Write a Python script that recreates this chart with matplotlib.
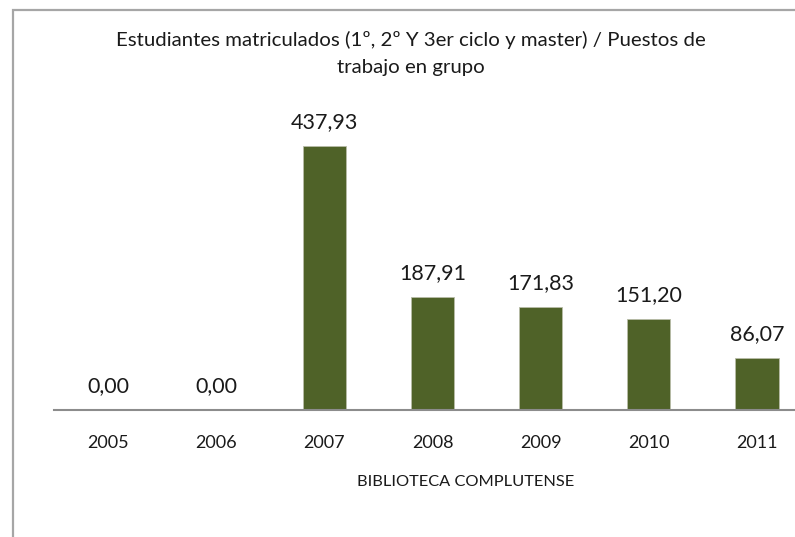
import matplotlib.pyplot as plt
from matplotlib.patches import Rectangle

years = ['2005', '2006', '2007', '2008', '2009', '2010', '2011']
values = [0.00, 0.00, 437.93, 187.91, 171.83, 151.20, 86.07]
labels = ['0,00', '0,00', '437,93', '187,91', '171,83', '151,20', '86,07']

plt.rcParams['font.family'] = ['Lato', 'DejaVu Sans']

fig = plt.figure(figsize=(7.95, 5.37), dpi=100)

# chart-area frame, only left and top edges fall inside the picture
fig.patches.append(Rectangle((13 / 795, -0.2), 1.2, 1 - 10 / 537 + 0.2,
                             transform=fig.transFigure, fill=False,
                             edgecolor='#a6a6a6', linewidth=1.6))

ax = fig.add_axes([54 / 795, 127 / 537, 757 / 795, 301 / 537])
x = range(len(years))
ax.bar(x, values, width=0.4, color='#4f6228', edgecolor='#b8bca8', linewidth=0.6)
ax.set_xlim(-0.5, len(years) - 0.5)
ax.set_ylim(0, 500)

for i, (v, t) in enumerate(zip(values, labels)):
    ax.annotate(t, (i, v), xytext=(0, 10), textcoords='offset points',
                ha='center', va='bottom', fontsize=15.5, color='#1a1a1a')

for side in ['top', 'right', 'left']:
    ax.spines[side].set_visible(False)
ax.spines['bottom'].set_color('#8c8c8c')
ax.spines['bottom'].set_linewidth(1.5)
ax.set_yticks([])
ax.set_xticks(list(x))
ax.set_xticklabels(years, fontsize=13, color='#1a1a1a')
ax.tick_params(axis='x', length=0, pad=18)

fig.text(411 / 795, 1 - 53.5 / 537,
         'Estudiantes matriculados (1º, 2º Y 3er ciclo y master) / Puestos de\ntrabajo en grupo',
         ha='center', va='center', fontsize=14.7, color='#1a1a1a', linespacing=1.65)
fig.text(466 / 795, 1 - 482 / 537, 'BIBLIOTECA COMPLUTENSE',
         ha='center', va='center', fontsize=11.8, color='#1a1a1a')

fig.savefig('out.png', dpi=100)
